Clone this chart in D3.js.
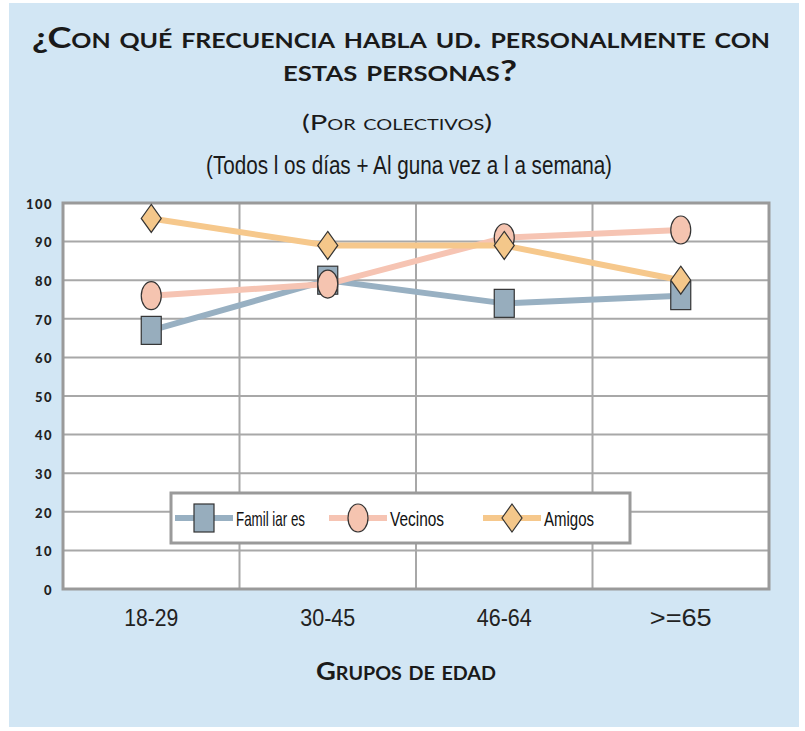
<!DOCTYPE html>
<html><head><meta charset="utf-8">
<script src="https://cdn.jsdelivr.net/npm/d3@7"></script>
<style>
body{margin:0;background:#fff;}
svg{display:block;}
</style></head>
<body>
<svg id="c" width="805" height="731"></svg>
<script>
const categories = ["18-29", "30-45", "46-64", ">=65"];
const familiares = [67, 80, 74, 76];
const vecinos = [76, 79, 91, 93];
const amigos = [96, 89, 89, 80];
const yTicks = [0, 10, 20, 30, 40, 50, 60, 70, 80, 90, 100];
const seriesNames = ["Famil iar es", "Vecinos", "Amigos"];

const series = [
  {name: seriesNames[0], values: familiares, line: "#98b0c2", fill: "#97adbd", shape: "square"},
  {name: seriesNames[1], values: vecinos, line: "#f6c4b3", fill: "#f5c4b0", shape: "circle"},
  {name: seriesNames[2], values: amigos, line: "#f6c88c", fill: "#f4c78a", shape: "diamond"}
];

const svg = d3.select("#c");
svg.append("rect").attr("x", 9).attr("y", 3).attr("width", 790).attr("height", 724).attr("fill", "#d2e6f4");

const L = 63, R = 769, T = 203, B = 589;
const x = d3.scaleBand().domain(categories).range([L, R]).padding(0);
const y = d3.scaleLinear().domain([0, 100]).range([B, T]);

svg.append("rect").attr("x", L).attr("y", T).attr("width", R - L).attr("height", B - T).attr("fill", "#fff");

svg.append("g").selectAll("line").data(yTicks.filter(d => d > 0 && d < 100)).join("line")
  .attr("x1", L).attr("x2", R).attr("y1", d => y(d)).attr("y2", d => y(d))
  .attr("stroke", "#a8a8a8").attr("stroke-width", 2);
svg.append("g").selectAll("line").data(categories.slice(1)).join("line")
  .attr("x1", d => x(d)).attr("x2", d => x(d)).attr("y1", T).attr("y2", B)
  .attr("stroke", "#a8a8a8").attr("stroke-width", 2);

svg.append("rect").attr("x", L).attr("y", T).attr("width", R - L).attr("height", B - T)
  .attr("fill", "none").attr("stroke", "#9a9a9a").attr("stroke-width", 3);

const yAxis = d3.axisLeft(y).tickValues(yTicks).tickSize(0).tickPadding(10);
const yg = svg.append("g").attr("transform", `translate(${L},0)`).call(yAxis);
yg.select(".domain").remove();
yg.selectAll("text").attr("font-family", "Lato, 'DejaVu Sans', sans-serif").attr("font-weight", "900")
  .attr("font-size", 13).attr("fill", "#222").attr("letter-spacing", "1.5px").attr("dy", "0.4em");

const narrow = "'Liberation Sans Narrow', 'Arial Narrow', 'Liberation Sans', sans-serif";
const tickW = [54, 55, 55, 62];
const xAxis = d3.axisBottom(x).tickSize(0).tickPadding(0);
const xg = svg.append("g").attr("transform", `translate(0,${B})`).call(xAxis);
xg.select(".domain").remove();
xg.selectAll("text").attr("font-family", narrow)
  .attr("font-size", 24).attr("fill", "#222").attr("dy", null).attr("y", 37)
  .attr("textLength", (d, i) => tickW[i]).attr("lengthAdjust", "spacingAndGlyphs");

const cx = c => x(c) + x.bandwidth() / 2;
const lineGen = d3.line().x((d, i) => cx(categories[i])).y(d => y(d));

function marker(g, shape, px, py, fill) {
  const w = 10, h = 14;
  if (shape === "square") {
    g.append("rect").attr("x", px - w).attr("y", py - h).attr("width", 2 * w).attr("height", 2 * h)
      .attr("fill", fill).attr("stroke", "#333").attr("stroke-width", 1.2);
  } else if (shape === "circle") {
    g.append("ellipse").attr("cx", px).attr("cy", py).attr("rx", w).attr("ry", h)
      .attr("fill", fill).attr("stroke", "#333").attr("stroke-width", 1.2);
  } else {
    g.append("path").attr("d", `M${px},${py - h}L${px + w},${py}L${px},${py + h}L${px - w},${py}Z`)
      .attr("fill", fill).attr("stroke", "#333").attr("stroke-width", 1.2);
  }
}

const lg = svg.append("g");
series.forEach(s => {
  lg.append("path").datum(s.values).attr("d", lineGen).attr("fill", "none")
    .attr("stroke", s.line).attr("stroke-width", 6);
});
const mg = svg.append("g");
series.forEach(s => {
  s.values.forEach((v, i) => marker(mg, s.shape, cx(categories[i]), y(v), s.fill));
});

const leg = svg.append("g");
leg.append("rect").attr("x", 171).attr("y", 493).attr("width", 459).attr("height", 50)
  .attr("fill", "#fff").attr("stroke", "#9a9a9a").attr("stroke-width", 3);
const legX = [175, 329, 483];
const legW = [69, 54, 50];
series.forEach((s, i) => {
  const lx = legX[i], ly = 518;
  leg.append("line").attr("x1", lx).attr("x2", lx + 58).attr("y1", ly).attr("y2", ly)
    .attr("stroke", s.line).attr("stroke-width", 6);
  marker(leg, s.shape, lx + 29, ly, s.fill);
  leg.append("text").attr("x", lx + 61).attr("y", ly + 8).text(s.name)
    .attr("font-family", narrow).attr("font-size", 21).attr("fill", "#111")
    .attr("textLength", legW[i]).attr("lengthAdjust", "spacingAndGlyphs");
});

function title(txt, cxp, yb, size, width, opts) {
  const t = svg.append("text").attr("x", cxp).attr("y", yb).attr("text-anchor", "middle")
    .attr("font-size", size).attr("fill", "#1a1a1a").text(txt);
  if (opts.smallcaps) t.style("font-variant", "small-caps");
  t.attr("font-family", opts.family).attr("font-weight", opts.weight || "normal");
  if (width) t.attr("textLength", width).attr("lengthAdjust", "spacingAndGlyphs");
  return t;
}
const geo = "Lato, 'DejaVu Sans', sans-serif";
title("¿Con qué frecuencia habla ud. personalmente con", 401, 48, 29, 738, {smallcaps: true, family: geo, weight: "bold"});
title("estas personas?", 400, 81, 29, 234, {smallcaps: true, family: geo, weight: "bold"});
title("(Por colectivos)", 397, 130, 22, 190, {smallcaps: true, family: geo, weight: "normal"});
title("(Todos l os días +  Al guna vez a l a semana)", 409, 174, 25, 406, {family: narrow});
title("Grupos de edad", 406, 680, 25, 180, {smallcaps: true, family: geo, weight: "bold"});
</script>
</body></html>
